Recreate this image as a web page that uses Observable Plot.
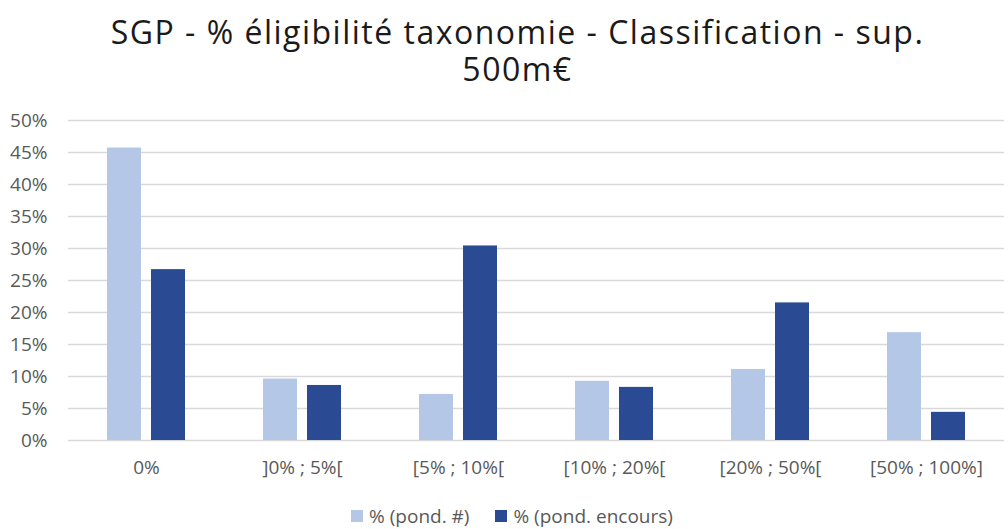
<!DOCTYPE html>
<html>
<head>
<meta charset="utf-8">
<script src="https://cdn.jsdelivr.net/npm/d3@7"></script>
<script src="https://cdn.jsdelivr.net/npm/@observablehq/plot@0.6"></script>
<style>
  html, body { margin: 0; padding: 0; background: #fff; }
  #wrap { position: relative; width: 1008px; height: 529px; overflow: hidden; }
  .title-line {
    position: absolute; left: 0; width: 1008px; height: 37px; box-sizing: border-box;
    padding-left: 27px;
    text-align: center; font-family: "Open Sans", sans-serif;
    font-size: 32px; line-height: 37px; letter-spacing: 1.5px; color: #1a1a1a;
    white-space: nowrap;
  }
  #title1 { top: 13px; }
  #title2 { top: 50px; }
  #chart { position: absolute; left: 0; top: 100px; }
  #legend {
    position: absolute; left: 8px; top: 505px; width: 1008px; height: 22px;
    display: flex; justify-content: center; gap: 26px;
    font-family: "Open Sans", sans-serif; font-size: 19px; line-height: 22px; color: #595959;
  }
  #legend .item { display: flex; align-items: center; gap: 6px; }
  #legend .sw { width: 12px; height: 12px; display: inline-block; }
</style>
</head>
<body>
<div id="wrap">
  <div class="title-line" id="title1">SGP - % éligibilité taxonomie - Classification - sup.</div>
  <div class="title-line" id="title2">500m€</div>
  <div id="chart"></div>
  <div id="legend"></div>
</div>
<script>
// Eligibility classes (x categories)
const categories = ["0%", "]0% ; 5%[", "[5% ; 10%[", "[10% ; 20%[", "[20% ; 50%[", "[50% ; 100%]"];
// Series names and colours
const seriesNames = ["% (pond. #)", "% (pond. encours)"];
const seriesColors = ["#B4C7E7", "#2A4B93"];
// Share weighted by number of issuers
const pondCount = [0.457, 0.096, 0.072, 0.0925, 0.111, 0.1685];
// Share weighted by outstanding amount
const pondEncours = [0.267, 0.086, 0.304, 0.083, 0.215, 0.044];
// Y axis ticks
const yTicks = [0, 0.05, 0.10, 0.15, 0.20, 0.25, 0.30, 0.35, 0.40, 0.45, 0.50];

const rows = [];
categories.forEach((c, i) => {
  rows.push({category: c, series: seriesNames[0], value: pondCount[i]});
  rows.push({category: c, series: seriesNames[1], value: pondEncours[i]});
});

const chart = Plot.plot({
  width: 1008,
  height: 390,
  marginLeft: 67,
  marginRight: 3,
  marginTop: 20,
  marginBottom: 50,
  style: {fontFamily: "'Open Sans', sans-serif", fontSize: "19px", color: "#595959", background: "#fff"},
  fx: {domain: categories, padding: 0, label: null, axis: "bottom", tickSize: 0, tickPadding: 20},
  x: {domain: seriesNames, axis: null, paddingInner: 0.222, paddingOuter: 0.848},
  y: {domain: [0, 0.5], ticks: yTicks, tickFormat: d3.format(".0%"), label: null, tickSize: 0, tickPadding: 21},
  color: {domain: seriesNames, range: seriesColors},
  marks: [
    Plot.ruleY(yTicks, {stroke: "#D9D9D9", strokeWidth: 1.5}),
    Plot.barY(rows, {fx: "category", x: "series", y: "value", fill: "series"})
  ]
});
document.getElementById("chart").appendChild(chart);

const legend = document.getElementById("legend");
seriesNames.forEach((name, i) => {
  const item = document.createElement("div");
  item.className = "item";
  const sw = document.createElement("span");
  sw.className = "sw";
  sw.style.background = seriesColors[i];
  const label = document.createElement("span");
  label.textContent = name;
  item.appendChild(sw);
  item.appendChild(label);
  legend.appendChild(item);
});
</script>
</body>
</html>
